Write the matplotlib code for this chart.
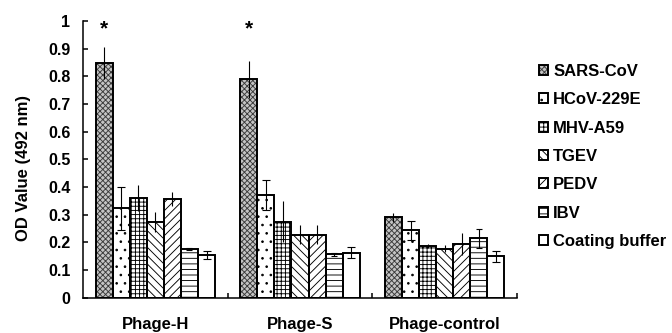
import matplotlib
matplotlib.use("Agg")
import matplotlib.pyplot as plt
import numpy as np

categories = ["Phage-H", "Phage-S", "Phage-control"]
series = ["SARS-CoV", "HCoV-229E", "MHV-A59", "TGEV", "PEDV", "IBV", "Coating buffer"]
values = {
    "SARS-CoV":       [0.848, 0.790, 0.290],
    "HCoV-229E":      [0.323, 0.372, 0.243],
    "MHV-A59":        [0.360, 0.275, 0.188],
    "TGEV":           [0.275, 0.227, 0.177],
    "PEDV":           [0.356, 0.227, 0.193],
    "IBV":            [0.177, 0.157, 0.215],
    "Coating buffer": [0.154, 0.162, 0.150],
}
errors = {
    "SARS-CoV":       [0.057, 0.067, 0.015],
    "HCoV-229E":      [0.077, 0.054, 0.036],
    "MHV-A59":        [0.048, 0.073, 0.007],
    "TGEV":           [0.036, 0.034, 0.012],
    "PEDV":           [0.025, 0.034, 0.040],
    "IBV":            [0.004, 0.006, 0.034],
    "Coating buffer": [0.013, 0.020, 0.020],
}
yticks = [0, 0.1, 0.2, 0.3, 0.4, 0.5, 0.6, 0.7, 0.8, 0.9, 1]
ytick_labels = ["0", "0.1", "0.2", "0.3", "0.4", "0.5", "0.6", "0.7", "0.8", "0.9", "1"]
stars = ["*", "*", ""]

# styles
fills = ["#c4c4c4", "white", "white", "white", "white", "white", "white"]
hatches = ["xxxxxx", "..", "++++", "\\\\\\\\", "////", "---", ""]
hcolors = ["#3a3a3a", "black", "black", "black", "black", "black", "black"]
caps = [0, 3, 0, 0, 0, 2, 3]

plt.rcParams["font.family"] = ["Liberation Sans", "DejaVu Sans"]
plt.rcParams["font.weight"] = "bold"
plt.rcParams["hatch.linewidth"] = 0.65

fig = plt.figure(figsize=(6.72, 3.33), dpi=100)
W, H = 672, 333
ax = fig.add_axes([83 / W, (H - 297.7) / H, (517 - 83) / W, (297.7 - 21) / H])

x = np.arange(len(categories))
bw = 0.118
n = len(series)
handles = []
for i, s in enumerate(series):
    pos = x + (i - (n - 1) / 2) * bw
    b1 = ax.bar(pos, values[s], bw, color=fills[i], hatch=hatches[i],
                edgecolor=hcolors[i], linewidth=0, zorder=2)
    b2 = ax.bar(pos, values[s], bw, fill=False, edgecolor="black",
                linewidth=1.4, zorder=3)
    ax.errorbar(pos, values[s], yerr=errors[s], fmt="none", ecolor="black",
                elinewidth=0.8, capsize=caps[i], capthick=0.8, zorder=4)
    handles.append((b1, b2))
    if i == 0:
        for p, st in zip(pos, stars):
            if st:
                ax.text(p, 0.972, st, ha="center", va="center",
                        fontsize=15, fontweight="bold")

ax.set_xlim(-0.5, 2.5)
ax.set_ylim(0, 1)
ax.set_yticks(yticks)
ax.set_yticklabels(ytick_labels)
ax.set_xticks(x)
ax.set_xticklabels(categories)
ax.set_xticks([0.5, 1.5, 2.5], minor=True)
for sp in ["top", "right"]:
    ax.spines[sp].set_visible(False)
for sp in ["left", "bottom"]:
    ax.spines[sp].set_linewidth(1.1)
ax.tick_params(axis="y", direction="in", length=3.5, width=1.1, pad=9,
               labelsize=11.5)
ax.tick_params(axis="x", which="major", length=0, pad=14, labelsize=12)
ax.tick_params(axis="x", which="minor", direction="in", length=3.5, width=1.1)
for t in ax.get_xticklabels() + ax.get_yticklabels():
    t.set_fontweight("bold")

ax.set_ylabel("OD Value (492 nm)", fontsize=12, fontweight="bold")
ax.yaxis.set_label_coords(-0.12, 0.47)

fig.legend(handles, series, loc="upper left", bbox_to_anchor=(539 / W, 1 - 64 / H),
           frameon=False, handlelength=0.55, handleheight=0.55,
           handletextpad=0.3, labelspacing=0.80, borderpad=0, borderaxespad=0,
           prop={"weight": "bold", "size": 12})

fig.savefig("out.png", dpi=100)
